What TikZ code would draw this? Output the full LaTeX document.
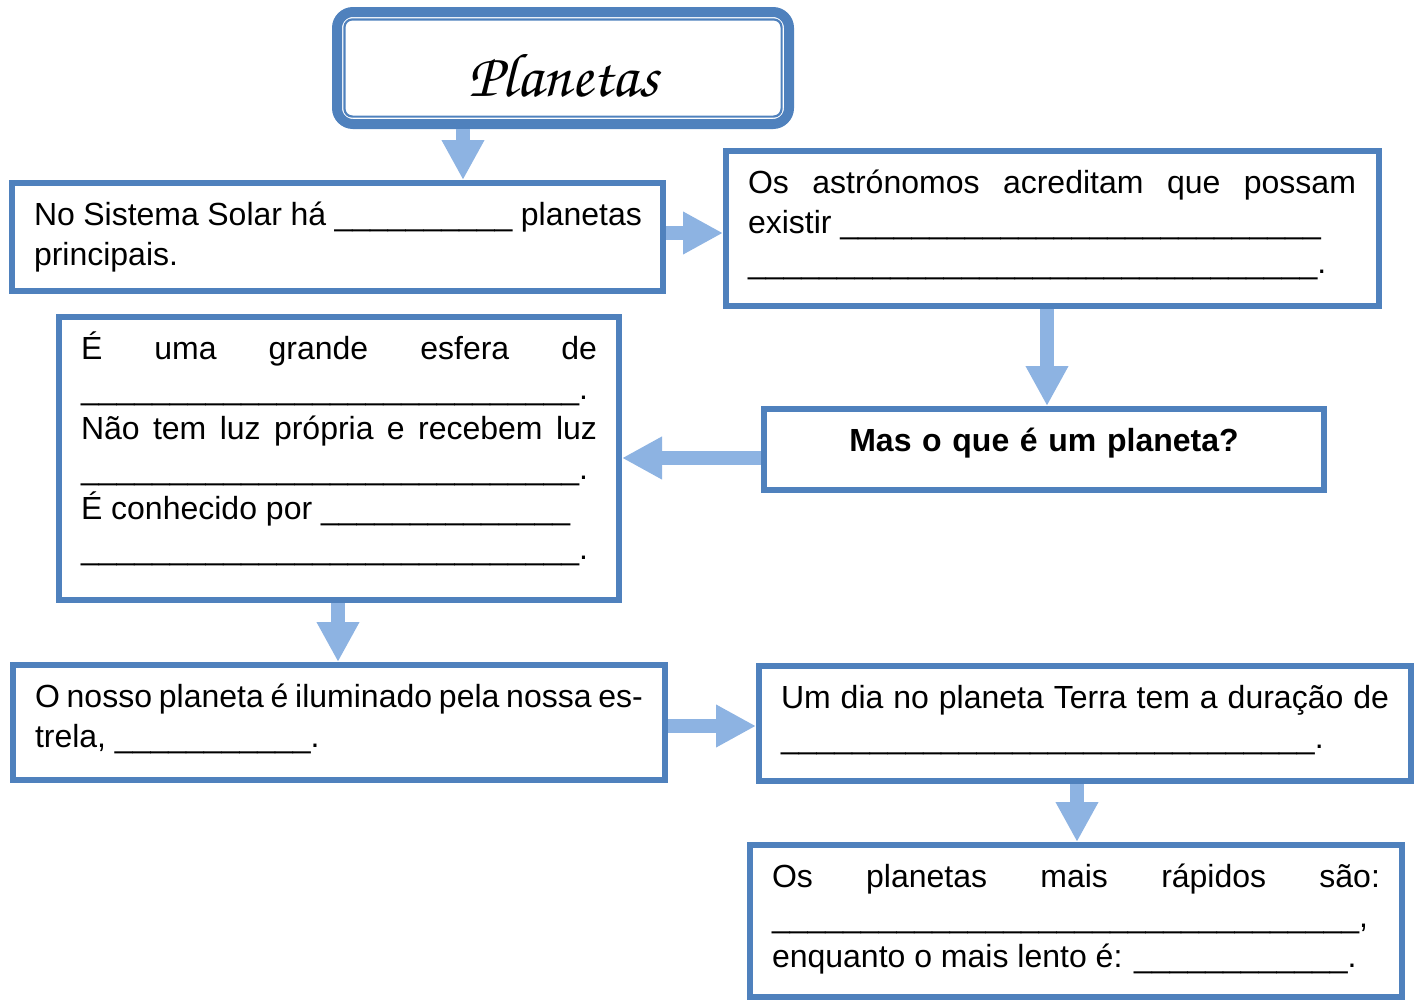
\documentclass[tikz,border=0pt]{standalone}
\usepackage[T1]{fontenc}
\usepackage{fontspec}
\setmainfont{Liberation Sans}
\usetikzlibrary{arrows.meta}
\definecolor{boxblue}{HTML}{4F81BD}
\definecolor{arrowblue}{HTML}{8DB3E2}
\newcommand{\titlefont}{\fontencoding{T1}\fontfamily{pzc}\fontseries{mb}\fontshape{it}\fontsize{31}{31}\selectfont}
\newcommand{\lacuna}[1]{\foreach \k in {1,...,#1}{\_}}
\tikzset{
  titlebox/.style={draw=boxblue, line width=5pt, rounded corners=8pt, minimum width=226pt, minimum height=56pt, inner sep=0pt, anchor=north west},
  titleline/.style={draw=boxblue, line width=1.1pt, rounded corners=4pt},
  panel/.style={draw=boxblue, line width=3pt, inner sep=0pt, anchor=north west},
  paneltext/.style={anchor=north west, text width=304pt, align=justify, inner xsep=12.5pt, inner ysep=6.5pt, outer sep=0pt, font=\fontsize{16}{20}\selectfont, execute at begin node=\rule{0pt}{16pt}},
  questiontext/.style={paneltext, anchor=north, text width=280pt, align=center, font=\fontsize{16}{20}\selectfont\bfseries},
  flow/.style={draw=arrowblue, line width=7pt, -{Triangle[width=20pt, length=20pt]}}
}

\begin{document}
\begin{tikzpicture}[x=0.5pt, y=-0.5pt]
  \useasboundingbox (0,0) rectangle (1421,1001);

  \node[titlebox] (title) at (332,7) {};
  \draw[titleline] ([shift={(6.2pt,-6.2pt)}]title.north west) rectangle ([shift={(-6.2pt,6.2pt)}]title.south east);
  \node[yshift=-3.5pt] (titletxt) at (title.center) {\titlefont Planetas};

  \node[panel, minimum width=325.5pt, minimum height=54pt] (sistema) at (9,180) {};
  \node[panel, minimum width=326.5pt, minimum height=77.5pt] (astronomos) at (723,148) {};
  \node[panel, minimum width=280pt, minimum height=141.5pt] (esfera) at (56,314) {};
  \node[panel, minimum width=280pt, minimum height=40.5pt] (pergunta) at (761,406) {};
  \node[panel, minimum width=326pt, minimum height=57.5pt] (nosso) at (10,662) {};
  \node[panel, minimum width=326pt, minimum height=57.5pt] (dia) at (756,663) {};
  \node[panel, minimum width=326pt, minimum height=76pt] (rapidos) at (747,842) {};

  \node[paneltext] (sistematxt) at (sistema.north west)
    {No Sistema Solar há \lacuna{10} planetas\linebreak principais.};
  \node[paneltext] (astronomostxt) at (astronomos.north west)
    {Os astrónomos acreditam que possam\linebreak existir \lacuna{27}\newline \lacuna{32}.};
  \node[paneltext, text width=258pt] (esferatxt) at (esfera.north west)
    {É uma grande esfera de\linebreak \lacuna{28}.\newline Não tem luz própria e recebem luz\linebreak \lacuna{28}.\newline É conhecido por \lacuna{14}\newline \lacuna{28}.};
  \node[questiontext] (perguntatxt) at (pergunta.north) {Mas o que é um planeta?};
  \node[paneltext] (nossotxt) at (nosso.north west)
    {O nosso planeta é iluminado pela nossa es-\linebreak trela, \lacuna{11}.};
  \node[paneltext] (diatxt) at (dia.north west)
    {Um dia no planeta Terra tem a duração de\linebreak \lacuna{30}.};
  \node[paneltext] (rapidostxt) at (rapidos.north west)
    {Os planetas mais rápidos são:\linebreak \lacuna{33},\newline enquanto o mais lento é: \lacuna{12}.};

  \draw[flow] (463,0 |- title.south) -- (463,0 |- sistema.north);
  \draw[flow] (sistema.east |- 0,233) -- (astronomos.west |- 0,233);
  \draw[flow] (1047,0 |- astronomos.south) -- (1047,0 |- pergunta.north);
  \draw[flow] (pergunta.west |- 0,458) -- (esfera.east |- 0,458);
  \draw[flow] (338,0 |- esfera.south) -- (338,0 |- nosso.north);
  \draw[flow] (nosso.east |- 0,726) -- (dia.west |- 0,726);
  \draw[flow] (1077,0 |- dia.south) -- (1077,0 |- rapidos.north);
\end{tikzpicture}
\end{document}
